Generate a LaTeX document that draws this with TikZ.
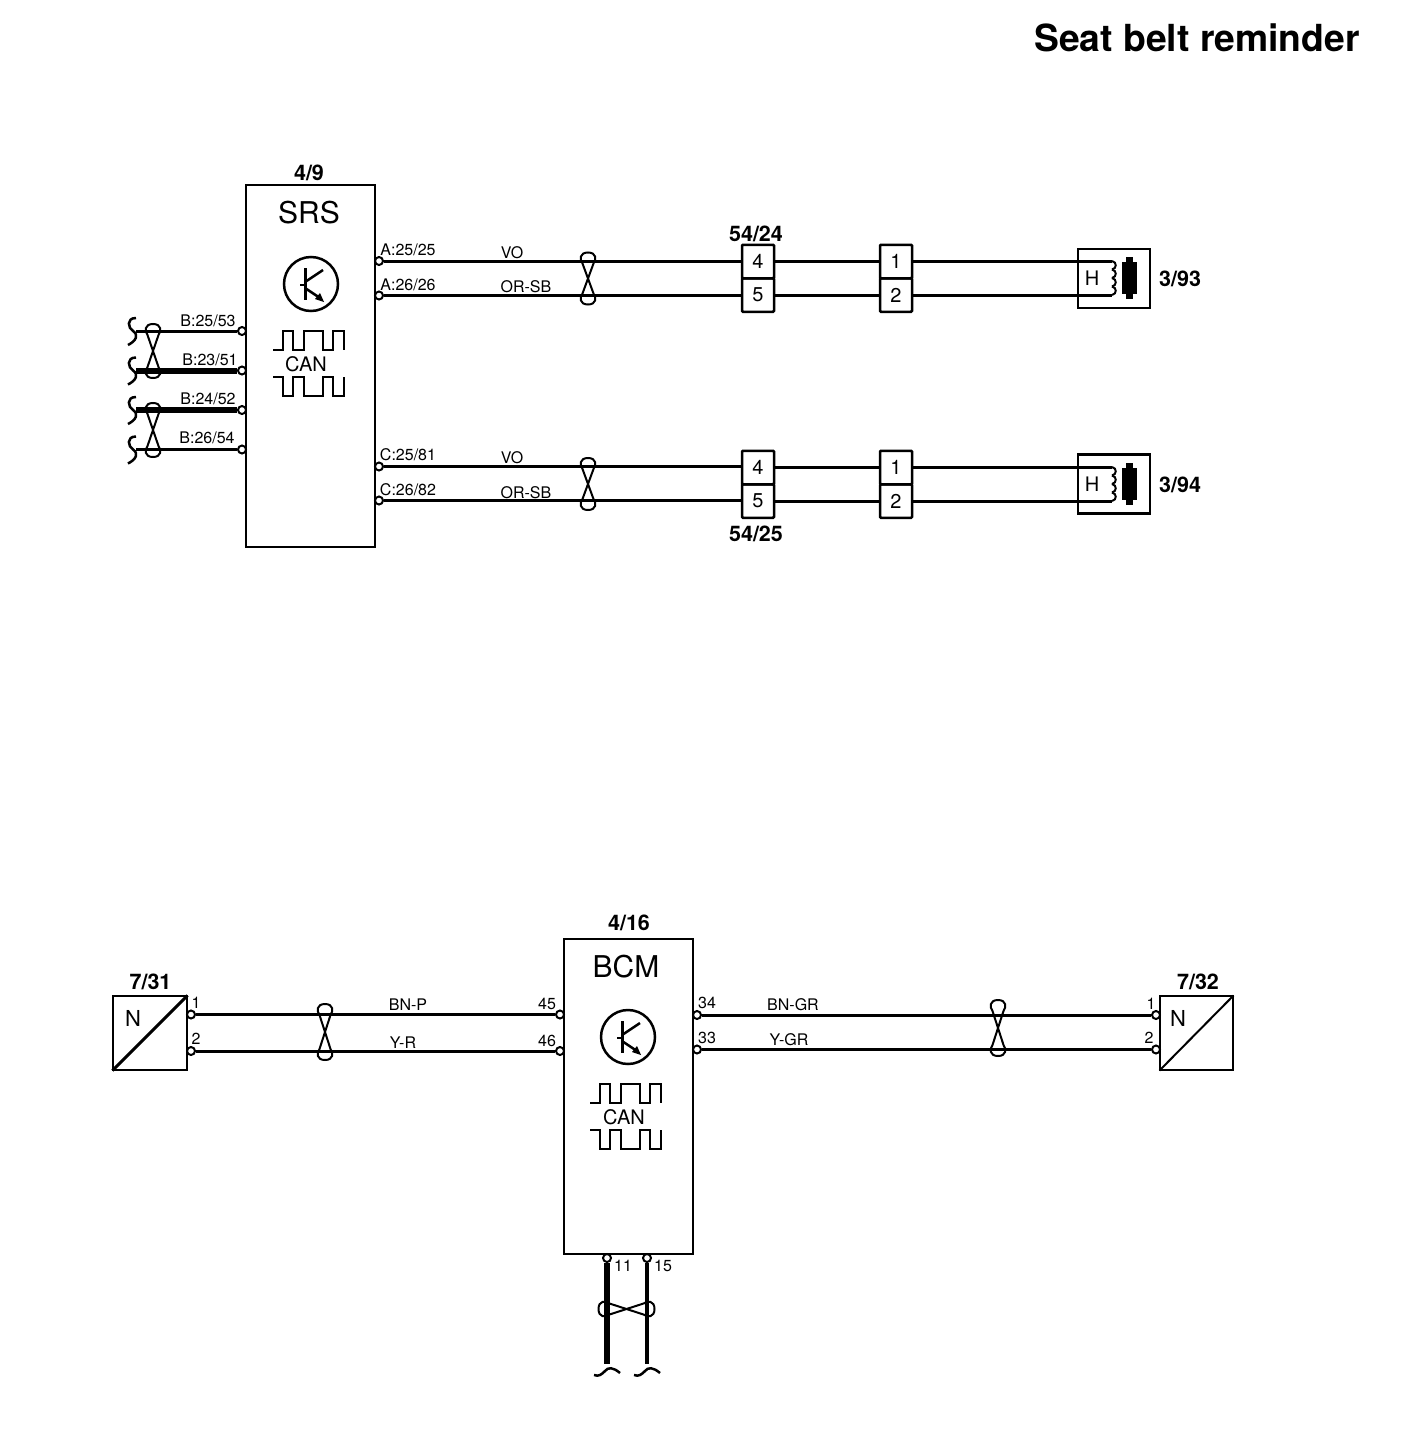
\documentclass[tikz,border=0pt]{standalone}
\usepackage{fontspec}
\setmainfont{TeX Gyre Heros}
\usetikzlibrary{calc}
\tikzset{
  ecu/.style={draw, line width=2.5pt, inner sep=0pt, minimum width=129pt},
  part/.style={draw, line width=2.5pt, inner sep=0pt},
  cell/.style={draw, line width=2.5pt, inner sep=0pt, rounded corners=1pt, minimum width=32pt, minimum height=33.5pt, font=\fontsize{20}{20}\selectfont},
  pin/.style={circle, draw, fill=white, line width=2pt, inner sep=0pt, minimum size=8pt},
  wire/.style={line width=3pt},
  heavy/.style={line width=6pt},
  sym/.style={line width=2.5pt},
  pinlabel/.style={inner sep=0pt, yshift=-0.5pt, font=\fontsize{16}{16}\selectfont},
  ref/.style={inner sep=0pt, yshift=-0.5pt, font=\bfseries\fontsize{21.5}{21.5}\selectfont},
  ecuname/.style={inner sep=0pt, yshift=-0.5pt, font=\fontsize{30}{30}\selectfont},
  canname/.style={inner sep=0pt, font=\fontsize{20}{20}\selectfont},
  twist/.pic={
    \draw[line width=2pt] (0,0) -- (5.5,-#1+11) .. controls (8.5,-#1+7) and (8.5,-#1) .. (0,-#1)
      .. controls (-8.5,-#1) and (-8.5,-#1+7) .. (-5.5,-#1+11) -- (0,0)
      -- (5.5,#1-11) .. controls (8.5,#1-7) and (8.5,#1) .. (0,#1)
      .. controls (-8.5,#1) and (-8.5,#1-7) .. (-5.5,#1-11) -- cycle;
  },
  endv/.pic={
    \draw[sym] (0,-13) .. controls (-10,-13) and (-8,-3) .. (-3,0)
      .. controls (3,4) and (0,10) .. (-8,14);
  },
  endh/.pic={
    \draw[sym] (-13,6) .. controls (-8,8) and (-5,5) .. (-2,2)
      .. controls (1,-2) and (6,-2) .. (13,4);
  },
  % transistor and CAN symbol, origin at the centre of the circle
  ecuicons/.pic={
    \draw[sym] (0,0) circle (27pt);
    \draw[line width=3pt] (-6,-16) -- (-6,16);
    \draw[sym] (-11,1) -- (-6,1);
    \draw[sym] (-6,-2) -- (12,-14);
    \draw[sym] (-6,4) -- (9,14);
    \fill (13,18) -- (4,15) -- (9,9) -- cycle;
    \draw[sym] (-38,66) -- (-28,66) -- (-28,47) -- (-18,47) -- (-18,66) -- (-7,66)
      -- (-7,47) -- (12,47) -- (12,66) -- (22,66) -- (22,47) -- (33,47) -- (33,66);
    \draw[sym] (-38,93) -- (-28,93) -- (-28,112) -- (-18,112) -- (-18,93) -- (-7,93)
      -- (-7,112) -- (12,112) -- (12,93) -- (22,93) -- (22,112) -- (33,112) -- (33,93);
  },
  % coil and bar of the belt buckle parts
  buckle/.pic={
    \foreach \i in {0,1,2,3}
      \draw[line width=2pt] (0,8.5*\i-17) .. controls (5,8.5*\i-16) and (5,8.5*\i-9.5) .. (0,8.5*\i-8.5);
    \fill (14,-21) rectangle (21,21);
    \fill (10,-16) rectangle (25,16);
  },
}
\begin{document}
\begin{tikzpicture}[x=1pt, y=-1pt]
  \useasboundingbox (0,0) rectangle (1408,1456);

  \node[inner sep=0pt, anchor=east, font=\bfseries\fontsize{37.3}{37.3}\selectfont] (title) at (1360,38) {Seat belt reminder};

  % SRS
  \node[ecu, minimum height=362pt] (srs) at (310.5,366) {};
  \node[ref] (srsref) at (309,172) {4/9};
  \node[ecuname] (srsname) at (309,212) {SRS};
  \pic at (311,284) {ecuicons};
  \node[canname] (srscan) at (306,364) {CAN};

  \node[pin] (pa1) at (379,261) {};
  \node[pin] (pa2) at (379,295.5) {};
  \node[pin] (pc1) at (379,466.5) {};
  \node[pin] (pc2) at (379,500.5) {};
  \node[pin] (pb1) at (242,331) {};
  \node[pin] (pb2) at (242,370.5) {};
  \node[pin] (pb3) at (242,410) {};
  \node[pin] (pb4) at (242,449.5) {};

  \node[pinlabel] (la1) at (408,249) {A:25/25};
  \node[pinlabel] (la2) at (408,284) {A:26/26};
  \node[pinlabel] (lc1) at (408,454) {C:25/81};
  \node[pinlabel] (lc2) at (408,489) {C:26/82};
  \node[pinlabel] (lb1) at (208,320) {B:25/53};
  \node[pinlabel] (lb2) at (210,359) {B:23/51};
  \node[pinlabel] (lb3) at (208,398) {B:24/52};
  \node[pinlabel] (lb4) at (207,437) {B:26/54};

  % left side bus
  \coordinate (eb1) at (136,331);
  \coordinate (eb2) at (136,370.5);
  \coordinate (eb3) at (136,410);
  \coordinate (eb4) at (136,449.5);
  \draw[wire] (eb1) -- (pb1);
  \draw[heavy] (eb2) -- (pb2);
  \draw[heavy] (eb3) -- (pb3);
  \draw[wire] (eb4) -- (pb4);
  \foreach \e in {eb1,eb2,eb3,eb4}
    \pic at (\e) {endv};
  \pic at (153,351) {twist=27};
  \pic at (153,430) {twist=27};

  % upper branch
  \node[cell] (c1a) at (758,261.5) {4};
  \node[cell] (c1b) at (758,295) {5};
  \node[cell] (c2a) at (896,261.5) {1};
  \node[cell] (c2b) at (896,295) {2};
  \node[ref] (c1ref) at (756,233) {54/24};
  \node[part, minimum width=72pt, minimum height=59pt] (h93) at (1114,278.5) {};
  \node[inner sep=0pt, font=\fontsize{20}{20}\selectfont] (h93name) at (1092,278) {H};
  \node[ref, anchor=west] (h93ref) at (1159,278) {3/93};
  \coordinate (h93a) at (1112,261.5);
  \coordinate (h93b) at (1112,295);
  \draw[wire] (pa1 -| pa1.east) -- (pa1 -| c1a.west);
  \draw[wire] (pa2 -| pa2.east) -- (pa2 -| c1b.west);
  \draw[wire] (c1a) -- (c2a);
  \draw[wire] (c1b) -- (c2b);
  \draw[wire] (c2a) -- (h93a);
  \draw[wire] (c2b) -- (h93b);
  \pic at (1112,278) {buckle};
  \pic at (588,278.5) {twist=26};
  \node[pinlabel] (lvo1) at (512,252) {VO};
  \node[pinlabel] (lor1) at (526,286) {OR-SB};

  % lower branch
  \node[cell] (c3a) at (758,467.5) {4};
  \node[cell] (c3b) at (758,501) {5};
  \node[cell] (c4a) at (896,467.5) {1};
  \node[cell] (c4b) at (896,501) {2};
  \node[ref] (c3ref) at (756,533.5) {54/25};
  \node[part, minimum width=72pt, minimum height=59pt] (h94) at (1114,484) {};
  \node[inner sep=0pt, font=\fontsize{20}{20}\selectfont] (h94name) at (1092,484) {H};
  \node[ref, anchor=west] (h94ref) at (1159,484) {3/94};
  \coordinate (h94a) at (1112,467.5);
  \coordinate (h94b) at (1112,501);
  \draw[wire] (pc1 -| pc1.east) -- (pc1 -| c3a.west);
  \draw[wire] (pc2 -| pc2.east) -- (pc2 -| c3b.west);
  \draw[wire] (c3a) -- (c4a);
  \draw[wire] (c3b) -- (c4b);
  \draw[wire] (c4a) -- (h94a);
  \draw[wire] (c4b) -- (h94b);
  \pic at (1112,484) {buckle};
  \pic at (588,484) {twist=26};
  \node[pinlabel] (lvo2) at (512,457) {VO};
  \node[pinlabel] (lor2) at (526,492) {OR-SB};

  % BCM
  \node[ecu, minimum height=315pt] (bcm) at (628.5,1096.5) {};
  \node[ref] (bcmref) at (629,922) {4/16};
  \node[ecuname] (bcmname) at (626,966) {BCM};
  \pic at (628,1037) {ecuicons};
  \node[canname] (bcmcan) at (624,1117) {CAN};

  \node[pin] (p45) at (560,1014.5) {};
  \node[pin] (p46) at (560,1051) {};
  \node[pin] (p34) at (697,1015) {};
  \node[pin] (p33) at (697,1049.5) {};
  \node[pin] (p11) at (607,1258) {};
  \node[pin] (p15) at (647,1258) {};
  \node[pinlabel] (l45) at (547,1003) {45};
  \node[pinlabel] (l46) at (547,1040) {46};
  \node[pinlabel] (l34) at (707,1002) {34};
  \node[pinlabel] (l33) at (707,1037) {33};
  \node[pinlabel] (l11) at (623,1265) {11};
  \node[pinlabel] (l15) at (663,1265) {15};

  % 7/31
  \node[part, minimum width=74pt, minimum height=74pt] (n31) at (150,1033) {};
  \draw[line width=3pt, shorten <=1pt, shorten >=1pt] (n31.south west) -- (n31.north east);
  \node[inner sep=0pt, font=\fontsize{22}{22}\selectfont] (n31name) at (133,1018) {N};
  \node[ref] (n31ref) at (150.5,981) {7/31};
  \node[pin] (p31a) at (191,1014.5) {};
  \node[pin] (p31b) at (191,1051) {};
  \node[pinlabel] (l31a) at (196,1002) {1};
  \node[pinlabel] (l31b) at (196,1038) {2};
  \draw[wire] (p31a) -- (p45);
  \draw[wire] (p31b) -- (p46);
  \pic at (325,1032) {twist=28};
  \node[pinlabel] (lbnp) at (408,1004) {BN-P};
  \node[pinlabel] (lyr) at (403,1042) {Y-R};

  % 7/32
  \node[part, minimum width=73pt, minimum height=74pt] (n32) at (1196.5,1033) {};
  \draw[line width=2pt, shorten <=1pt, shorten >=1pt] (n32.south west) -- (n32.north east);
  \node[inner sep=0pt, font=\fontsize{22}{22}\selectfont] (n32name) at (1178,1018) {N};
  \node[ref] (n32ref) at (1198,981) {7/32};
  \node[pin] (p32a) at (1156,1015) {};
  \node[pin] (p32b) at (1156,1049.5) {};
  \node[pinlabel] (l32a) at (1151,1003) {1};
  \node[pinlabel] (l32b) at (1149,1037) {2};
  \draw[wire] (p34) -- (p32a);
  \draw[wire] (p33) -- (p32b);
  \pic at (998,1028) {twist=28};
  \node[pinlabel] (lbngr) at (793,1004) {BN-GR};
  \node[pinlabel] (lygr) at (789,1039) {Y-GR};

  % bottom bus
  \coordinate (e11) at (607,1364);
  \coordinate (e15) at (647,1364);
  \draw[heavy] (p11) -- (e11);
  \draw[line width=4pt] (p15) -- (e15);
  \pic at (607,1369) {endh};
  \pic at (647,1369) {endh};
  \pic[rotate=90] at (626.5,1309) {twist=28};
\end{tikzpicture}
\end{document}
